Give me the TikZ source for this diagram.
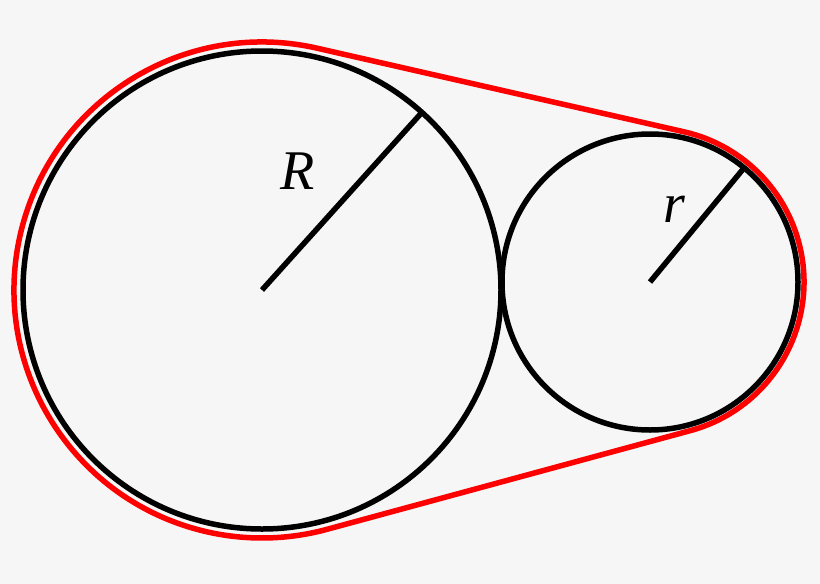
\documentclass[tikz,border=0pt]{standalone}
\usepackage{fontspec}
\setmainfont{Liberation Serif}
\usetikzlibrary{calc}
\definecolor{bg}{HTML}{F6F6F6}
\definecolor{belt}{HTML}{FF0000}
\begin{document}
\begin{tikzpicture}[x=1pt,y=1pt,
  wheel/.style={draw=black,line width=5.5pt},
  radline/.style={draw=black,line width=5.5pt},
  beltline/.style={draw=belt,line width=5.5pt,line join=round},
  lbl/.style={font=\fontspec{Liberation Serif}\fontsize{56}{56}\selectfont\itshape,inner sep=0pt}]
\fill[bg] (0,0) rectangle (820,-584);
\useasboundingbox (0,0) rectangle (820,-584);
\coordinate (C1) at (262,-290);
\coordinate (C2) at (650,-282);
% belt
\coordinate (T1) at ($(C1)+(77:248)$);
\coordinate (B1) at ($(C1)+(-74.65:248)$);
\coordinate (T2) at ($(C2)+(77:154)$);
\coordinate (B2) at ($(C2)+(-74.65:154)$);
\draw[beltline] (T1) arc[start angle=77,end angle=285.35,radius=248] -- (B2)
  arc[start angle=-74.65,end angle=77,radius=154] -- cycle;
% wheels
\draw[wheel] (C1) circle[radius=239];
\draw[wheel] (C2) circle[radius=148];
\coordinate (E1) at ($(C1)+(48:239)$);
\coordinate (E2) at ($(C2)+(50.5:148)$);
\draw[radline] (C1) -- (E1);
\draw[radline] (C2) -- (E2);
\node[lbl] (R) at (298,-171) {R};
\node[lbl] (r) at (674,-209) {r};
\end{tikzpicture}
\end{document}
